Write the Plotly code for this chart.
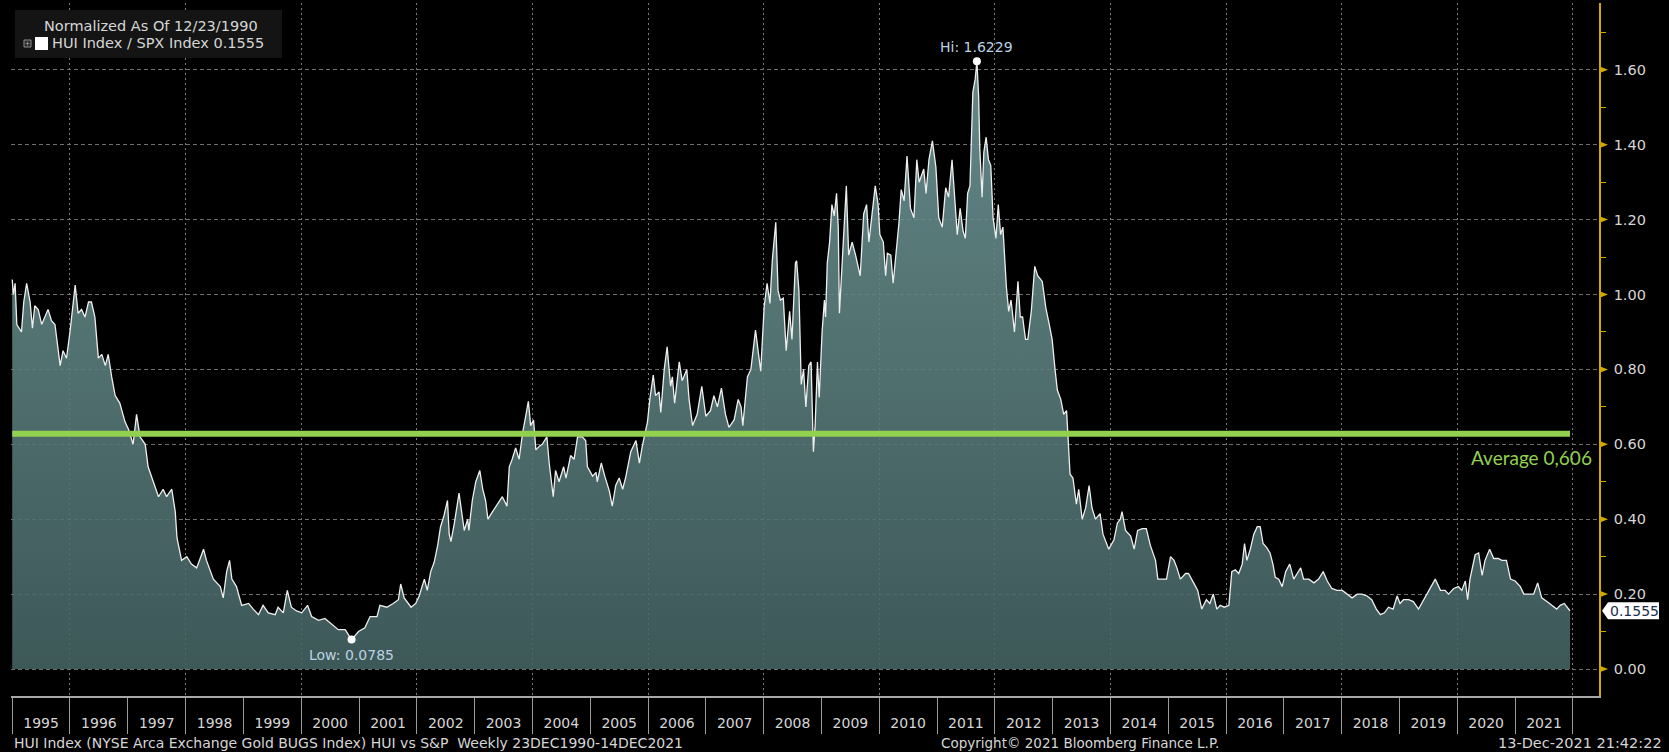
"""
HUI Index / SPX Index ratio, weekly, Bloomberg-style chart.
"""
import pandas as pd
import plotly.graph_objects as go

# Series: decimal year -> ratio value
t_1995_2001 = [
    1995.00, 1995.02, 1995.05, 1995.08, 1995.16, 1995.20, 1995.25, 1995.31, 1995.35, 1995.39,
    1995.45, 1995.51, 1995.62, 1995.68, 1995.74, 1995.78, 1995.83, 1995.88, 1995.94, 1996.00,
    1996.03, 1996.09, 1996.14, 1996.20, 1996.26, 1996.32, 1996.37, 1996.43, 1996.49, 1996.55,
    1996.61, 1996.66, 1996.72, 1996.78, 1996.86, 1996.95, 1997.01, 1997.09, 1997.15, 1997.21,
    1997.30, 1997.35, 1997.44, 1997.53, 1997.61, 1997.67, 1997.76, 1997.82, 1997.85, 1997.93,
    1998.02, 1998.10, 1998.19, 1998.31, 1998.36, 1998.48, 1998.60, 1998.65, 1998.71, 1998.76,
    1998.80, 1998.88, 1998.97, 1999.09, 1999.17, 1999.26, 1999.34, 1999.43, 1999.55, 1999.60,
    1999.69, 1999.76, 1999.83, 1999.92, 2000.01, 2000.11, 2000.18, 2000.30, 2000.41, 2000.53,
    2000.64, 2000.76, 2000.87, 2000.99, 2001.10, 2001.19, 2001.31, 2001.36, 2001.48, 2001.59,
    2001.68,
]
v_1995_2001 = [
    1.04, 1.00, 1.03, 0.92, 0.90, 0.98, 1.03, 0.98, 0.91, 0.97,
    0.96, 0.92, 0.96, 0.93, 0.92, 0.87, 0.81, 0.85, 0.83, 0.90,
    0.94, 1.025, 0.95, 0.96, 0.94, 0.98, 0.98, 0.94, 0.83, 0.84,
    0.81, 0.84, 0.78, 0.73, 0.71, 0.66, 0.64, 0.60, 0.68, 0.62,
    0.60, 0.54, 0.50, 0.46, 0.48, 0.46, 0.48, 0.42, 0.35, 0.29,
    0.30, 0.28, 0.27, 0.32, 0.29, 0.24, 0.22, 0.19, 0.26, 0.29,
    0.24, 0.22, 0.17, 0.175, 0.16, 0.145, 0.17, 0.15, 0.145, 0.165,
    0.15, 0.21, 0.165, 0.155, 0.15, 0.17, 0.14, 0.13, 0.135, 0.12,
    0.105, 0.105, 0.0785, 0.10, 0.11, 0.14, 0.14, 0.17, 0.165, 0.175,
    0.185,
]

t_2001_2008 = [
    2001.72, 2001.78, 2001.90, 2001.98, 2002.04, 2002.13, 2002.18, 2002.24, 2002.30, 2002.36,
    2002.41, 2002.47, 2002.53, 2002.56, 2002.59, 2002.65, 2002.73, 2002.82, 2002.88, 2002.90,
    2002.96, 2003.02, 2003.09, 2003.14, 2003.19, 2003.23, 2003.31, 2003.39, 2003.48, 2003.56,
    2003.60, 2003.65, 2003.71, 2003.77, 2003.83, 2003.89, 2003.93, 2003.97, 2004.02, 2004.06,
    2004.12, 2004.17, 2004.25, 2004.29, 2004.36, 2004.40, 2004.46, 2004.54, 2004.58, 2004.66,
    2004.72, 2004.78, 2004.86, 2004.92, 2004.95, 2005.04, 2005.10, 2005.12, 2005.19, 2005.25,
    2005.33, 2005.38, 2005.44, 2005.50, 2005.56, 2005.61, 2005.70, 2005.79, 2005.85, 2005.90,
    2005.99, 2006.03, 2006.09, 2006.13, 2006.19, 2006.22, 2006.28, 2006.33, 2006.39, 2006.42,
    2006.46, 2006.54, 2006.59, 2006.67, 2006.71, 2006.77, 2006.85, 2006.93, 2007.00, 2007.08,
    2007.14, 2007.20, 2007.27, 2007.34, 2007.40, 2007.49, 2007.56, 2007.61, 2007.64, 2007.72,
    2007.78, 2007.86, 2007.95, 2008.01, 2008.06, 2008.11, 2008.15, 2008.21, 2008.25, 2008.29,
]
v_2001_2008 = [
    0.227, 0.19, 0.165, 0.175, 0.195, 0.24, 0.21, 0.26, 0.285, 0.33,
    0.38, 0.41, 0.45, 0.36, 0.34, 0.39, 0.47, 0.37, 0.40, 0.37,
    0.45, 0.50, 0.53, 0.48, 0.45, 0.40, 0.42, 0.44, 0.46, 0.435,
    0.54, 0.56, 0.59, 0.56, 0.63, 0.68, 0.715, 0.65, 0.665, 0.585,
    0.595, 0.60, 0.62, 0.55, 0.46, 0.53, 0.50, 0.54, 0.51, 0.57,
    0.56, 0.62, 0.62, 0.61, 0.54, 0.515, 0.525, 0.50, 0.55, 0.515,
    0.475, 0.435, 0.49, 0.51, 0.48, 0.51, 0.58, 0.61, 0.55, 0.595,
    0.66, 0.72, 0.785, 0.73, 0.74, 0.685, 0.80, 0.86, 0.755, 0.78,
    0.71, 0.82, 0.77, 0.80, 0.72, 0.65, 0.68, 0.755, 0.675, 0.69,
    0.73, 0.70, 0.75, 0.68, 0.645, 0.665, 0.72, 0.70, 0.65, 0.78,
    0.80, 0.905, 0.795, 0.967, 1.03, 0.976, 1.09, 1.193, 1.01, 0.985,
]

t_2008_2013 = [
    2008.34, 2008.39, 2008.45, 2008.49, 2008.55, 2008.57, 2008.61, 2008.65, 2008.69, 2008.73,
    2008.78, 2008.82, 2008.86, 2008.89, 2008.93, 2008.96, 2009.01, 2009.05, 2009.07, 2009.10,
    2009.14, 2009.18, 2009.22, 2009.26, 2009.29, 2009.31, 2009.36, 2009.40, 2009.43, 2009.47,
    2009.53, 2009.59, 2009.67, 2009.73, 2009.78, 2009.82, 2009.87, 2009.93, 2009.98, 2010.01,
    2010.07, 2010.11, 2010.14, 2010.20, 2010.24, 2010.30, 2010.34, 2010.38, 2010.43, 2010.48,
    2010.54, 2010.60, 2010.65, 2010.69, 2010.77, 2010.81, 2010.86, 2010.92, 2010.98, 2011.03,
    2011.09, 2011.15, 2011.20, 2011.26, 2011.32, 2011.35, 2011.40, 2011.45, 2011.49, 2011.53,
    2011.57, 2011.62, 2011.66, 2011.69, 2011.72, 2011.74, 2011.78, 2011.81, 2011.85, 2011.89,
    2011.93, 2011.97, 2012.02, 2012.06, 2012.10, 2012.14, 2012.20, 2012.24, 2012.28, 2012.34,
    2012.40, 2012.44, 2012.48, 2012.53, 2012.57, 2012.63, 2012.69, 2012.74, 2012.82, 2012.88,
    2012.94, 2012.99, 2013.04, 2013.08,
]
v_2008_2013 = [
    0.99, 0.85, 0.955, 0.88, 1.085, 1.09, 1.01, 0.76, 0.80, 0.70,
    0.81, 0.82, 0.58, 0.65, 0.82, 0.725, 0.90, 0.985, 0.94, 1.085,
    1.14, 1.24, 1.21, 1.27, 1.18, 0.95, 1.095, 1.24, 1.29, 1.105,
    1.14, 1.105, 1.05, 1.215, 1.24, 1.14, 1.215, 1.29, 1.24, 1.16,
    1.14, 1.05, 1.11, 1.105, 1.03, 1.12, 1.19, 1.28, 1.25, 1.37,
    1.23, 1.205, 1.36, 1.30, 1.335, 1.27, 1.36, 1.41, 1.34, 1.205,
    1.18, 1.285, 1.26, 1.36, 1.23, 1.16, 1.23, 1.17, 1.15, 1.27,
    1.29, 1.54, 1.575, 1.6229, 1.53, 1.39, 1.26, 1.38, 1.42, 1.36,
    1.345, 1.205, 1.15, 1.24, 1.16, 1.18, 1.02, 0.955, 0.985, 0.90,
    1.035, 0.94, 0.94, 0.88, 0.88, 0.955, 1.075, 1.05, 1.035, 0.965,
    0.92, 0.88, 0.80, 0.745,
]

t_2013_2021 = [
    2013.14, 2013.19, 2013.24, 2013.30, 2013.35, 2013.41, 2013.45, 2013.51, 2013.57, 2013.63,
    2013.68, 2013.74, 2013.82, 2013.87, 2013.97, 2014.06, 2014.12, 2014.17, 2014.20, 2014.26,
    2014.35, 2014.41, 2014.47, 2014.55, 2014.62, 2014.69, 2014.78, 2014.82, 2014.89, 2014.97,
    2015.04, 2015.10, 2015.15, 2015.21, 2015.30, 2015.35, 2015.44, 2015.51, 2015.58, 2015.66,
    2015.72, 2015.78, 2015.84, 2015.90, 2015.97, 2016.05, 2016.10, 2016.16, 2016.22, 2016.28,
    2016.32, 2016.36, 2016.42, 2016.48, 2016.54, 2016.59, 2016.64, 2016.70, 2016.76, 2016.81,
    2016.85, 2016.91, 2016.97, 2017.03, 2017.10, 2017.17, 2017.23, 2017.29, 2017.34, 2017.43,
    2017.52, 2017.60, 2017.68, 2017.75, 2017.83, 2017.92, 2018.01, 2018.09, 2018.18, 2018.27,
    2018.35, 2018.44, 2018.52, 2018.60, 2018.67, 2018.74, 2018.81, 2018.89, 2018.96, 2019.01,
    2019.07, 2019.16, 2019.24, 2019.33, 2019.42, 2019.50, 2019.62, 2019.71, 2019.79, 2019.85,
    2019.94, 2020.02, 2020.08, 2020.14, 2020.18, 2020.22, 2020.31, 2020.37, 2020.43, 2020.48,
    2020.56, 2020.63, 2020.71, 2020.77, 2020.85, 2020.92, 2021.00, 2021.09, 2021.15, 2021.23,
    2021.32, 2021.39, 2021.46, 2021.55, 2021.64, 2021.72, 2021.78, 2021.85, 2021.95,
]
v_2013_2021 = [
    0.72, 0.68, 0.69, 0.52, 0.51, 0.44, 0.48, 0.40, 0.43, 0.49,
    0.43, 0.40, 0.415, 0.36, 0.32, 0.345, 0.39, 0.40, 0.42, 0.37,
    0.355, 0.32, 0.37, 0.375, 0.375, 0.33, 0.29, 0.24, 0.24, 0.24,
    0.30, 0.29, 0.27, 0.24, 0.255, 0.255, 0.23, 0.21, 0.16, 0.185,
    0.175, 0.20, 0.16, 0.17, 0.165, 0.17, 0.26, 0.265, 0.255, 0.28,
    0.335, 0.29, 0.32, 0.36, 0.38, 0.38, 0.335, 0.325, 0.31, 0.28,
    0.245, 0.24, 0.22, 0.26, 0.28, 0.24, 0.255, 0.27, 0.24, 0.24,
    0.23, 0.24, 0.26, 0.235, 0.215, 0.21, 0.21, 0.20, 0.19, 0.20,
    0.20, 0.195, 0.185, 0.16, 0.145, 0.15, 0.165, 0.16, 0.195, 0.175,
    0.185, 0.185, 0.18, 0.16, 0.185, 0.21, 0.24, 0.21, 0.21, 0.20,
    0.215, 0.22, 0.21, 0.235, 0.185, 0.24, 0.305, 0.31, 0.25, 0.29,
    0.32, 0.295, 0.295, 0.29, 0.29, 0.24, 0.235, 0.22, 0.20, 0.20,
    0.20, 0.23, 0.19, 0.18, 0.17, 0.16, 0.17, 0.175, 0.1555,
]

avg_level = 0.628          # where the green line is drawn
avg_label = "Average 0,606"
last_value = 0.1555
y_ticks = [0.0, 0.2, 0.4, 0.6, 0.8, 1.0, 1.2, 1.4, 1.6]
y_minor = [0.1, 0.3, 0.5, 0.7, 0.9, 1.1, 1.3, 1.5, 1.7]
x_view = [1994.979, 2022.452]
y_view = [-0.0721, 1.7784]

GOLD = "#d2a800"
TXT = "#d6d6d6"
FONT = "DejaVu Sans, sans-serif"

W, H = 1669, 752
L, R, T, B = 11, 70, 3, 56


def to_date(y):
    yr = int(y)
    start = pd.Timestamp(yr, 1, 1)
    end = pd.Timestamp(yr + 1, 1, 1)
    return start + (end - start) * (y - yr)


def px(x):
    return (x - L) / (W - L - R)


def py(y):
    return (H - B - y) / (H - T - B)


def label(x, y, text, size=14, color=TXT, xanchor="center", family=FONT, **kw):
    # text placed by pixel position inside the page
    return dict(x=px(x), y=py(y), xref="paper", yref="paper", text=text,
                xanchor=xanchor, yanchor="middle", showarrow=False,
                font=dict(size=size, color=color, family=family), **kw)


def box(x0, y0, x1, y1, fill, line=None):
    return dict(type="rect", xref="paper", yref="paper",
                x0=px(x0), x1=px(x1), y0=py(y1), y1=py(y0),
                fillcolor=fill, line=line or dict(width=0), layer="above")


years = t_1995_2001 + t_2001_2008 + t_2008_2013 + t_2013_2021
values = v_1995_2001 + v_2001_2008 + v_2008_2013 + v_2013_2021
df = pd.DataFrame({"date": [to_date(y) for y in years], "ratio": values})

hi = df.loc[df["ratio"].idxmax()]
lo = df.loc[df["ratio"].idxmin()]
x_range = [to_date(x_view[0]), to_date(x_view[1])]

fig = go.Figure()

fig.add_trace(go.Scatter(
    x=df["date"], y=df["ratio"],
    mode="lines",
    line=dict(color="#eeeeee", width=1.3),
    fill="tozeroy",
    fillgradient=dict(
        type="vertical", start=0, stop=1.65,
        colorscale=[[0, "rgba(70,100,100,0.88)"], [1, "rgba(114,154,154,0.88)"]],
    ),
    hoverinfo="skip",
))

# average line (on x2, which carries the 2-year grid)
fig.add_trace(go.Scatter(
    x=[df["date"].iloc[0], df["date"].iloc[-1]], y=[avg_level, avg_level],
    mode="lines", line=dict(color="#92d050", width=6),
    xaxis="x2", hoverinfo="skip",
))

# Hi / Low markers (on x3, which carries the year labels)
fig.add_trace(go.Scatter(
    x=[hi["date"], lo["date"]], y=[hi["ratio"], lo["ratio"]],
    mode="markers", marker=dict(color="white", size=8),
    xaxis="x3", cliponaxis=False, hoverinfo="skip",
))

annotations = [
    dict(x=hi["date"], y=hi["ratio"], xref="x", yref="y", text=f"Hi: {hi['ratio']:.4f}",
         xanchor="center", yanchor="middle", showarrow=False, yshift=14,
         font=dict(size=14, color="#bcd2e2", family=FONT)),
    dict(x=lo["date"], y=lo["ratio"], xref="x", yref="y", text=f"Low: {lo['ratio']:.4f}",
         xanchor="center", yanchor="middle", showarrow=False, yshift=-15,
         font=dict(size=14, color="#bcd2e2", family=FONT)),
    label(1594, 457, avg_label, size=19, color="#92d050", xanchor="right", family="Lato"),
    label(151, 26, "Normalized As Of 12/23/1990", size=14.5),
    label(50, 43, f"HUI Index / SPX Index {last_value:.4f}", size=14.5, xanchor="left"),
    dict(x=1, y=last_value, xref="paper", yref="y", text=f"{last_value:.4f}",
         xanchor="center", yanchor="middle", xshift=35, showarrow=False,
         font=dict(size=14, color="#1c2d4d", family=FONT)),
    label(12, 743, "HUI Index (NYSE Arca Exchange Gold BUGS Index) HUI vs S&P  Weekly 23DEC1990-14DEC2021",
          size=14, xanchor="left"),
    label(1080, 743, "Copyright© 2021 Bloomberg Finance L.P.", size=13.5),
    label(1664, 743, "13-Dec-2021 21:42:22", size=14.5, xanchor="right"),
]

shapes = [
    # legend box, expand icon and series swatch
    box(15, 10, 282, 58, "#141414"),
    box(24, 40, 31, 47, "#2a2a2a", dict(color="#8c8c8c", width=1)),
    box(25.5, 43.2, 29.5, 43.8, "#b0b0b0"),
    box(27.2, 41.5, 27.8, 45.5, "#b0b0b0"),
    box(35, 37, 48, 50, "white"),
    # last value tag
    dict(type="path", xref="paper", yref="y", xanchor=1, yanchor=last_value,
         xsizemode="pixel", ysizemode="pixel",
         path="M 3 0 L 9 -8.5 L 60 -8.5 L 60 8.5 L 9 8.5 Z",
         fillcolor="white", line=dict(width=0), layer="above"),
]
# gold triangles on the right axis
for v in y_ticks:
    shapes.append(dict(type="path", xref="paper", yref="y", xanchor=1, yanchor=v,
                       xsizemode="pixel", ysizemode="pixel",
                       path="M 0 -3.5 L 9 0 L 0 3.5 Z",
                       fillcolor=GOLD, line=dict(width=0), layer="above"))

fig.update_layout(
    width=W, height=H,
    margin=dict(l=L, r=R, t=T, b=B),
    paper_bgcolor="black", plot_bgcolor="black",
    showlegend=False,
    font=dict(family=FONT, color=TXT),
    xaxis=dict(
        type="date", range=x_range,
        tick0="1995-01-01", dtick="M12",
        ticks="outside", ticklen=36, tickcolor="#9a9a9a", tickwidth=1,
        showticklabels=False, showgrid=False, zeroline=False,
        showline=True, linecolor="#a8a8a8", linewidth=1.5,
    ),
    xaxis2=dict(
        type="date", range=x_range, overlaying="x", anchor="y",
        tick0="1996-01-01", dtick="M24",
        showgrid=True, gridcolor="#7a7a7a", gridwidth=1, griddash="2px,3px",
        showticklabels=False, ticks="", zeroline=False, showline=False,
    ),
    xaxis3=dict(
        type="date", range=x_range, overlaying="x", anchor="y",
        tick0="1995-01-01", dtick="M12", ticklabelmode="period", tickformat="%Y",
        showgrid=False, ticks="", zeroline=False, showline=False,
        ticklabelstandoff=17,
        tickfont=dict(size=14, color=TXT, family=FONT),
    ),
    yaxis=dict(
        side="right", range=y_view,
        tickvals=y_ticks, ticktext=[f"{v:.2f}" for v in y_ticks],
        ticks="outside", ticklen=10, tickcolor="rgba(0,0,0,0)",
        tickfont=dict(size=14.5, color=TXT, family=FONT),
        showgrid=True, gridcolor="#6e6e6e", gridwidth=1, griddash="4px,3px",
        zeroline=False,
        showline=True, linecolor=GOLD, linewidth=1.5,
        minor=dict(tickvals=y_minor, ticks="outside", ticklen=5, tickcolor=GOLD, showgrid=False),
    ),
    annotations=annotations,
    shapes=shapes,
)

fig.write_html("out.html", config={"displayModeBar": False},
               post_script="document.body.style.margin='0';")
